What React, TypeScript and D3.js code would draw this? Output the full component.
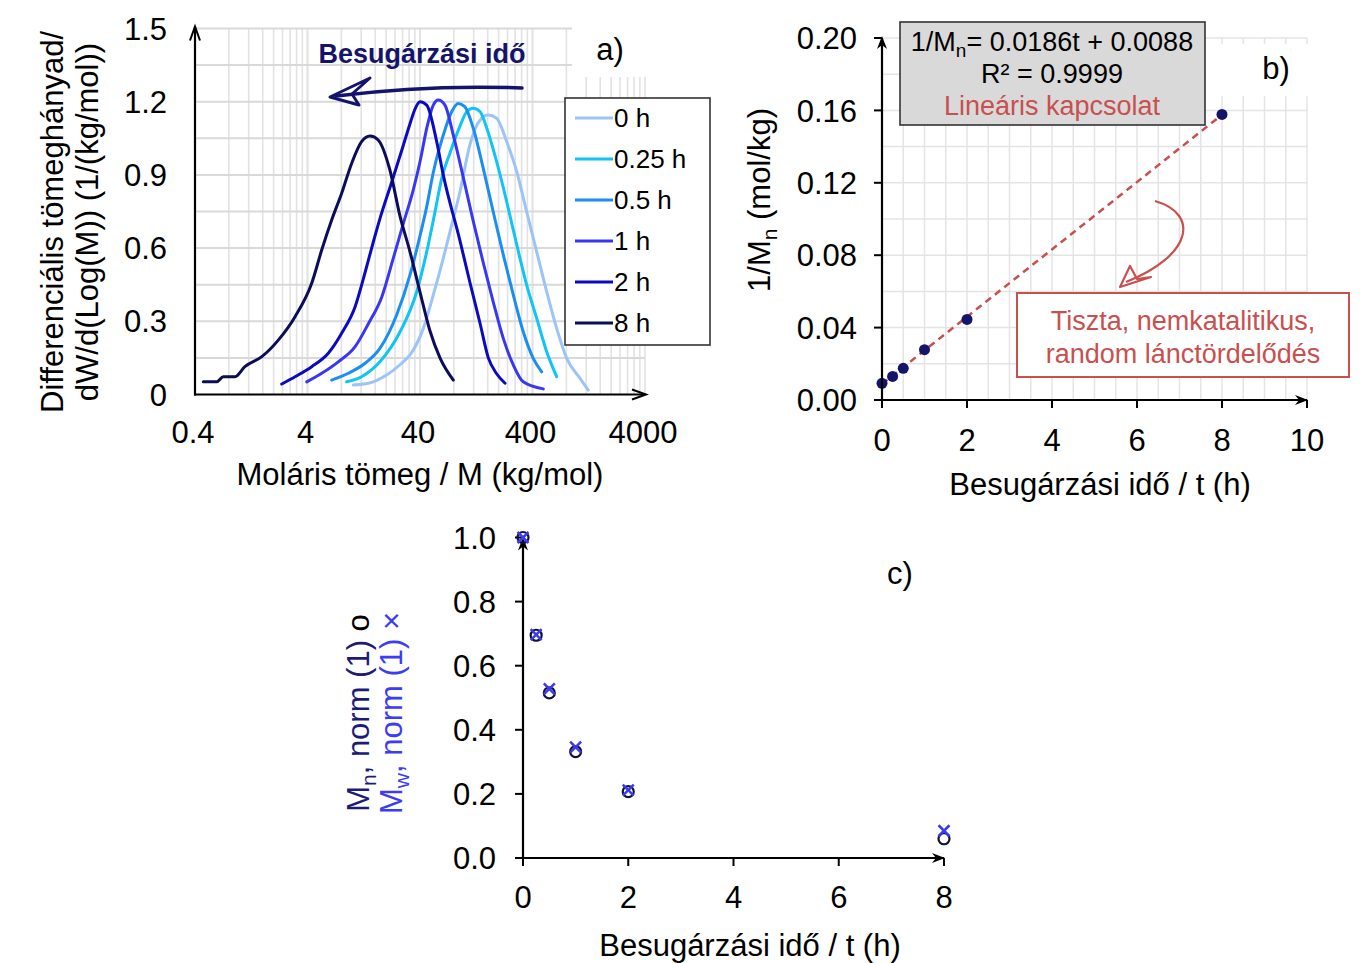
import React from "react";
import * as d3 from "d3";

// ---------- Panel a: molar mass distributions ----------
const seriesLabels = ["0 h", "0.25 h", "0.5 h", "1 h", "2 h", "8 h"];

const M_0h = [10.2, 13.9, 20.2, 27.5, 32.6, 42.8, 52.5, 64.4, 76.5, 90.7, 111, 137, 162, 192, 236, 290, 355, 436, 535, 656, 806, 1058, 1253];
const W_0h = [0.039, 0.046, 0.08, 0.128, 0.162, 0.271, 0.408, 0.558, 0.695, 0.831, 1.023, 1.125, 1.145, 1.132, 1.036, 0.913, 0.749, 0.585, 0.421, 0.271, 0.148, 0.066, 0.018];

const M_025h = [8.92, 12.1, 17.6, 26.6, 37.4, 45.9, 54.4, 62.4, 73.9, 90.7, 104, 119, 137, 157, 192, 236, 290, 355, 436, 535, 656];
const W_025h = [0.052, 0.073, 0.134, 0.257, 0.421, 0.585, 0.749, 0.886, 0.99, 1.1, 1.159, 1.173, 1.159, 1.091, 0.954, 0.79, 0.613, 0.449, 0.312, 0.175, 0.073];

const M_05h = [6.56, 9.22, 13.0, 17.6, 24.8, 32.6, 40, 45.9, 52.5, 64.4, 76.5, 87.6, 100, 119, 146, 179, 220, 270, 331, 406, 483];
const W_05h = [0.059, 0.087, 0.128, 0.189, 0.326, 0.49, 0.65, 0.77, 0.91, 1.063, 1.159, 1.193, 1.18, 1.091, 0.927, 0.749, 0.572, 0.408, 0.257, 0.148, 0.093];

const M_1h = [3.94, 5.35, 7.51, 10.6, 13.9, 18.3, 23.2, 28.4, 34.9, 40, 45.9, 52.5, 58.2, 66.7, 79.1, 97.0, 119, 146, 179, 220, 270, 331, 499];
const W_1h = [0.052, 0.087, 0.134, 0.196, 0.29, 0.4, 0.56, 0.7, 0.84, 0.954, 1.091, 1.186, 1.207, 1.186, 1.063, 0.89, 0.71, 0.54, 0.38, 0.23, 0.121, 0.052, 0.023];

const M_2h = [2.36, 3.1, 4.36, 6.12, 8.05, 10.6, 13.0, 15.4, 17.6, 22.4, 27.5, 32.6, 36.1, 40, 45.9, 56.3, 64.4, 90.7, 111, 137, 162, 192, 228];
const W_2h = [0.043, 0.073, 0.114, 0.169, 0.251, 0.36, 0.5, 0.626, 0.72, 0.87, 1.0, 1.11, 1.17, 1.2, 1.186, 1.036, 0.9, 0.63, 0.46, 0.29, 0.15, 0.085, 0.046];

const M_8h = [0.474, 0.624, 0.714, 0.907, 1.11, 1.57, 2.2, 3.1, 4.36, 5.35, 6.56, 8.05, 9.89, 12.1, 14.4, 17.0, 21.6, 26.6, 32.6, 40, 49.1, 60.2, 79.1];
const W_8h = [0.052, 0.052, 0.073, 0.073, 0.114, 0.155, 0.223, 0.319, 0.456, 0.592, 0.715, 0.825, 0.948, 1.036, 1.059, 1.043, 0.92, 0.73, 0.585, 0.42, 0.26, 0.15, 0.059];

const aXTicks = [0.4, 4, 40, 400, 4000];
const aYTicks = [0, 0.3, 0.6, 0.9, 1.2, 1.5];
const aYTickLabels = ["0", "0.3", "0.6", "0.9", "1.2", "1.5"];

// ---------- Panel b ----------
const tHours = [0, 0.25, 0.5, 1, 2, 8];
const invMn = [0.0092, 0.013, 0.0175, 0.0278, 0.0445, 0.1578];
const fitSlope = 0.0186;
const fitIntercept = 0.0088;
const bXTicks = [0, 2, 4, 6, 8, 10];
const bYTicks = [0, 0.04, 0.08, 0.12, 0.16, 0.2];

// ---------- Panel c ----------
const MnNorm = [1.0, 0.695, 0.515, 0.332, 0.207, 0.06];
const MwNorm = [1.0, 0.697, 0.528, 0.346, 0.212, 0.085];
const cXTicks = [0, 2, 4, 6, 8];
const cYTicks = [0, 0.2, 0.4, 0.6, 0.8, 1.0];

const FONT = "'Liberation Sans', Arial, Helvetica, sans-serif";
const seriesColors = ["#9cc4f6", "#10c4f4", "#1a8ff0", "#3838f4", "#0a0ac0", "#0c0c58"];
const NAVY = "#14146a";
const RED = "#c8504f";

const upArrow = (x: number, y: number) => `M${x},${y} L${x - 5},${y + 13} L${x},${y + 9} L${x + 5},${y + 13} Z`;
const rightArrow = (x: number, y: number) => `M${x},${y} L${x - 13},${y - 5} L${x - 9},${y} L${x - 13},${y + 5} Z`;

export default function App() {
  // scales
  const ax = d3.scaleLog().domain([0.4, 4000]).range([195, 645]);
  const ay = d3.scaleLinear().domain([0, 1.5]).range([394.5, 28.5]);
  const bx = d3.scaleLinear().domain([0, 10]).range([882, 1307]);
  const by = d3.scaleLinear().domain([0, 0.2]).range([400, 38]);
  const cx = d3.scaleLinear().domain([0, 8]).range([523, 944]);
  const cy = d3.scaleLinear().domain([0, 1]).range([858, 537.5]);

  const aSeries = [
    { M: M_0h, W: W_0h },
    { M: M_025h, W: W_025h },
    { M: M_05h, W: W_05h },
    { M: M_1h, W: W_1h },
    { M: M_2h, W: W_2h },
    { M: M_8h, W: W_8h },
  ].map((s, i) => ({ ...s, label: seriesLabels[i], color: seriesColors[i] }));

  const lineGen = d3
    .line<[number, number]>()
    .x((d) => ax(d[0]))
    .y((d) => ay(d[1]))
    .curve(d3.curveMonotoneX);

  // log minor grid values
  const aVGrid: number[] = [];
  [0.4, 4, 40, 400].forEach((dec) => {
    for (let k = 1; k <= 10; k++) aVGrid.push(dec * k);
  });
  const aHGrid = d3.range(1, 11).map((i) => i * 0.15);
  const bVGrid = d3.range(1, 21).map((i) => i * 0.5);
  const bHGrid = d3.range(1, 11).map((i) => i * 0.02);

  const txt = { fontFamily: FONT } as React.CSSProperties;

  return (
    <svg
      width={1363}
      height={963}
      viewBox="0 0 1363 963"
      style={{ position: "absolute", left: 0, top: 0, background: "#fff" }}
    >
      <rect x={0} y={0} width={1363} height={963} fill="#fff" />

      {/* ================= Panel a ================= */}
      <g>
        {aVGrid.map((v, i) => (
          <line key={"av" + i} x1={ax(v)} x2={ax(v)} y1={ay(1.5)} y2={ay(0)} stroke="#e2e2e2" strokeWidth={1.6} />
        ))}
        {aHGrid.map((v, i) => (
          <line key={"ah" + i} x1={ax(0.4)} x2={ax(4000)} y1={ay(v)} y2={ay(v)} stroke="#d9d9d9" strokeWidth={2} />
        ))}
        {/* white area behind "a)" */}
        <rect x={572} y={14} width={92} height={63} fill="#fff" />
        <text x={610} y={60} fontSize={31} textAnchor="middle" style={txt}>a)</text>

        {aSeries.map((s, i) => (
          <path
            key={"as" + i}
            d={lineGen(s.M.map((m, j) => [m, s.W[j]] as [number, number])) || ""}
            fill="none"
            stroke={s.color}
            strokeWidth={3}
            strokeLinejoin="round"
            strokeLinecap="round"
          />
        ))}

        {/* axes */}
        <line x1={ax(0.4)} x2={ax(0.4)} y1={ay(0) + 1} y2={ay(1.5) - 2} stroke="#000" strokeWidth={2.2} />
        <line x1={ax(0.4) - 1} x2={ax(4000)} y1={ay(0)} y2={ay(0)} stroke="#000" strokeWidth={2.2} />
        <path d={`M${ax(0.4) - 5},${ay(1.5) + 12} L${ax(0.4)},${ay(1.5) - 2} L${ax(0.4) + 5},${ay(1.5) + 12}`} fill="none" stroke="#000" strokeWidth={2} />
        <path d={`M${ax(4000) - 13},${ay(0) - 5} L${ax(4000) + 1},${ay(0)} L${ax(4000) - 13},${ay(0) + 5}`} fill="none" stroke="#000" strokeWidth={2} />

        {aYTicks.map((v, i) => (
          <text key={"ayt" + i} x={167} y={ay(v)} dy="0.36em" fontSize={31} textAnchor="end" style={txt}>
            {aYTickLabels[i]}
          </text>
        ))}
        {aXTicks.map((v, i) => (
          <text key={"axt" + i} x={ax(v) - 2} y={443} fontSize={31} textAnchor="middle" style={txt}>
            {String(v)}
          </text>
        ))}
        <text x={420} y={485} fontSize={31} textAnchor="middle" style={txt}>Moláris tömeg / M (kg/mol)</text>
        <text transform="translate(63,222) rotate(-90)" fontSize={31} textAnchor="middle" style={txt}>
          Differenciális tömeghányad/
        </text>
        <text transform="translate(98,222) rotate(-90)" fontSize={31} textAnchor="middle" style={txt}>
          dW/d(Log(M)) (1/(kg/mol))
        </text>

        {/* annotation arrow */}
        <text x={422} y={63} fontSize={27} fontWeight="bold" textAnchor="middle" fill={NAVY} style={txt}>
          Besugárzási idő
        </text>
        <path d="M522,88 C470,86 400,88 336,96" fill="none" stroke={NAVY} strokeWidth={3.5} strokeLinecap="round" />
        <path d="M330,97 L370,78 L352,94 L359,105 Z" fill="none" stroke={NAVY} strokeWidth={3} strokeLinejoin="round" />

        {/* legend */}
        <rect x={565} y={98} width={145} height={247} fill="#fff" stroke="#333" strokeWidth={1.6} />
        {aSeries.map((s, i) => (
          <g key={"lg" + i}>
            <line x1={575} x2={613} y1={118 + i * 41} y2={118 + i * 41} stroke={s.color} strokeWidth={3.2} />
            <text x={614} y={118 + i * 41} dy="0.36em" fontSize={26} style={txt}>
              {s.label}
            </text>
          </g>
        ))}
      </g>

      {/* ================= Panel b ================= */}
      <g>
        {bVGrid.map((v, i) => (
          <line key={"bv" + i} x1={bx(v)} x2={bx(v)} y1={by(0.2)} y2={by(0)} stroke="#e4e4e4" strokeWidth={1.5} />
        ))}
        {bHGrid.map((v, i) => (
          <line key={"bh" + i} x1={bx(0)} x2={bx(10)} y1={by(v)} y2={by(v)} stroke="#e4e4e4" strokeWidth={1.5} />
        ))}
        <rect x={1206} y={44} width={120} height={52} fill="#fff" />
        <text x={1276} y={79} fontSize={31} textAnchor="middle" style={txt}>b)</text>

        {/* fit line */}
        <line
          x1={bx(0)}
          y1={by(fitIntercept)}
          x2={bx(8)}
          y2={by(fitSlope * 8 + fitIntercept)}
          stroke={RED}
          strokeWidth={2.5}
          strokeDasharray="7,5"
        />
        {tHours.map((t, i) => (
          <circle key={"bp" + i} cx={bx(t)} cy={by(invMn[i])} r={5.5} fill={NAVY} />
        ))}

        {/* axes */}
        <line x1={bx(0)} x2={bx(0)} y1={by(0) + 1} y2={by(0.2)} stroke="#000" strokeWidth={2.2} />
        <line x1={bx(0) - 8} x2={bx(10)} y1={by(0)} y2={by(0)} stroke="#000" strokeWidth={2.2} />
        <path d={upArrow(bx(0), by(0.2) - 2)} fill="#000" />
        <path d={rightArrow(bx(10) + 1, by(0))} fill="#000" />
        {bYTicks.map((v, i) => (
          <g key={"byt" + i}>
            <line x1={bx(0) - 8} x2={bx(0)} y1={by(v)} y2={by(v)} stroke="#000" strokeWidth={2} />
            <text x={857} y={by(v)} dy="0.36em" fontSize={31} textAnchor="end" style={txt}>
              {v.toFixed(2)}
            </text>
          </g>
        ))}
        {bXTicks.map((v, i) => (
          <g key={"bxt" + i}>
            <line x1={bx(v)} x2={bx(v)} y1={by(0)} y2={by(0) + 8} stroke="#000" strokeWidth={2} />
            <text x={bx(v)} y={451} fontSize={31} textAnchor="middle" style={txt}>
              {String(v)}
            </text>
          </g>
        ))}
        <text x={1100} y={495} fontSize={31} textAnchor="middle" style={txt}>Besugárzási idő / t (h)</text>
        <text transform="translate(770,200) rotate(-90)" fontSize={31} textAnchor="middle" style={txt}>
          1/M<tspan dy={7} fontSize={21}>n</tspan>
          <tspan dy={-7}> (mol/kg)</tspan>
        </text>

        {/* equation box */}
        <rect x={900} y={22} width={305} height={103} fill="#d9d9d9" stroke="#333" strokeWidth={1.6} />
        <text x={1052} y={51} fontSize={27} textAnchor="middle" style={txt}>
          1/M<tspan dy={6} fontSize={19}>n</tspan>
          <tspan dy={-6}>= 0.0186t + 0.0088</tspan>
        </text>
        <text x={1052} y={83} fontSize={27} textAnchor="middle" style={txt}>R² = 0.9999</text>
        <text x={1052} y={115} fontSize={27} textAnchor="middle" fill={RED} style={txt}>Lineáris kapcsolat</text>

        {/* curved arrow */}
        <path d="M1155,201 C1200,214 1192,256 1126,282" fill="none" stroke={RED} strokeWidth={2.2} />
        <path d="M1120,287 L1130,266 L1137,279 L1151,277 Z" fill="none" stroke={RED} strokeWidth={2.2} strokeLinejoin="round" />

        {/* red note box */}
        <rect x={1017} y={293} width={332} height={84} fill="#fff" stroke={RED} strokeWidth={2} />
        <text x={1183} y={330} fontSize={27} textAnchor="middle" fill={RED} style={txt}>Tiszta, nemkatalitikus,</text>
        <text x={1183} y={363} fontSize={27} textAnchor="middle" fill={RED} style={txt}>random lánctördelődés</text>
      </g>

      {/* ================= Panel c ================= */}
      <g>
        <line x1={cx(0)} x2={cx(0)} y1={cy(0) + 1} y2={cy(1)} stroke="#000" strokeWidth={2.2} />
        <line x1={cx(0) - 8} x2={cx(8)} y1={cy(0)} y2={cy(0)} stroke="#000" strokeWidth={2.2} />
        <path d={upArrow(cx(0), cy(1))} fill="#000" />
        <path d={rightArrow(cx(8) + 1, cy(0))} fill="#000" />
        {cYTicks.map((v, i) => (
          <g key={"cyt" + i}>
            <line x1={cx(0) - 8} x2={cx(0)} y1={cy(v)} y2={cy(v)} stroke="#000" strokeWidth={2} />
            <text x={496} y={cy(v)} dy="0.36em" fontSize={31} textAnchor="end" style={txt}>
              {v.toFixed(1)}
            </text>
          </g>
        ))}
        {cXTicks.map((v, i) => (
          <g key={"cxt" + i}>
            <line x1={cx(v)} x2={cx(v)} y1={cy(0)} y2={cy(0) + 8} stroke="#000" strokeWidth={2} />
            <text x={cx(v)} y={908} fontSize={31} textAnchor="middle" style={txt}>
              {String(v)}
            </text>
          </g>
        ))}
        <text x={750} y={956} fontSize={31} textAnchor="middle" style={txt}>Besugárzási idő / t (h)</text>
        <text x={900} y={584} fontSize={31} textAnchor="middle" style={txt}>c)</text>

        {tHours.map((t, i) => (
          <circle key={"cn" + i} cx={cx(t)} cy={cy(MnNorm[i])} r={5.5} fill="none" stroke="#111133" strokeWidth={2.2} />
        ))}
        {tHours.map((t, i) => {
          const x = cx(t);
          const y = cy(MwNorm[i]);
          return (
            <path
              key={"cw" + i}
              d={`M${x - 5.5},${y - 5.5} L${x + 5.5},${y + 5.5} M${x - 5.5},${y + 5.5} L${x + 5.5},${y - 5.5}`}
              stroke="#3a3af5"
              strokeWidth={2.5}
            />
          );
        })}

        <text transform="translate(369,713) rotate(-90)" fontSize={31} textAnchor="middle" fill="#1c1c78" style={txt}>
          M<tspan dy={7} fontSize={21}>n</tspan>
          <tspan dy={-7}>, norm (1) </tspan>
          <tspan fill="#000">o</tspan>
        </text>
        <text transform="translate(402,713) rotate(-90)" fontSize={31} textAnchor="middle" fill="#3c3cf5" style={txt}>
          M<tspan dy={7} fontSize={21}>w</tspan>
          <tspan dy={-7}>, norm (1) ×</tspan>
        </text>
      </g>
    </svg>
  );
}
